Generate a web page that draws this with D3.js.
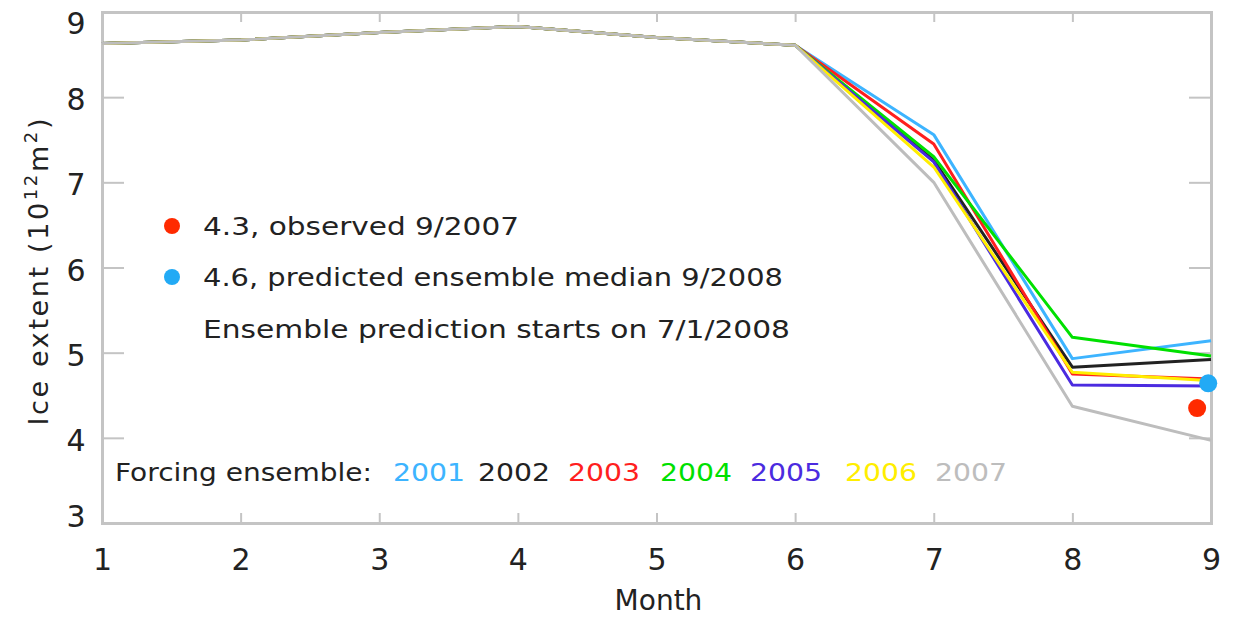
<!DOCTYPE html>
<html>
<head>
<meta charset="utf-8">
<script src="https://cdn.jsdelivr.net/npm/d3@7"></script>
<style>
  body { margin: 0; background: #fff; }
  text { font-family: "DejaVu Sans", sans-serif; fill: #222; }
</style>
</head>
<body>
<div class="chart"></div>
<script>
var wi = 1233;
var he = 617;

var months = [1, 2, 3, 4, 5, 6, 7, 8, 9];
var years = ["2001", "2002", "2003", "2004", "2005", "2006", "2007"];
var colors = ["#3db4ff", "#222222", "#ff1f1f", "#00e000", "#4b2be0", "#ffee00", "#bdbdbd"];

var ice2001 = [8.63, 8.67, 8.76, 8.83, 8.70, 8.61, 7.56, 4.93, 5.14];
var ice2002 = [8.63, 8.67, 8.76, 8.83, 8.70, 8.61, 7.26, 4.83, 4.92];
var ice2003 = [8.63, 8.67, 8.76, 8.83, 8.70, 8.61, 7.45, 4.75, 4.69];
var ice2004 = [8.63, 8.67, 8.76, 8.83, 8.70, 8.61, 7.30, 5.18, 4.96];
var ice2005 = [8.63, 8.67, 8.76, 8.83, 8.70, 8.61, 7.24, 4.62, 4.61];
var ice2006 = [8.63, 8.67, 8.76, 8.83, 8.70, 8.61, 7.18, 4.77, 4.67];
var ice2007 = [8.63, 8.67, 8.76, 8.83, 8.70, 8.61, 7.00, 4.37, 3.97];
var series = [ice2001, ice2002, ice2003, ice2004, ice2005, ice2006, ice2007];

// observed 9/2007 and predicted median 9/2008
var dotMonths = [8.9, 8.98];
var dotValues = [4.35, 4.64];
var dotColors = ["#ff2a00", "#22aaf5"];
var dotLabels = ["4.3, observed 9/2007", "4.6, predicted ensemble median 9/2008"];

var yTicks = [3, 4, 5, 6, 7, 8, 9];

var padLeft = 102, padRight = 1211, padTop = 12, padBottom = 523;
var axisColor = "#c4c4c4";

var xScale = d3.scaleLinear().domain([1, 9]).range([padLeft, padRight]);
var yScale = d3.scaleLinear().domain([3, 9]).range([padBottom, padTop]);

var svg = d3.select(".chart").append("svg")
    .attr("width", wi)
    .attr("height", he);

// frame with axes
var xBottom = d3.axisBottom(xScale).tickValues(months).tickSize(-10).tickPadding(26).tickFormat(d3.format("d"));
var xTop = d3.axisTop(xScale).tickValues(months).tickSize(-10).tickFormat("");
var yLeft = d3.axisLeft(yScale).tickValues(yTicks).tickSize(-22).tickPadding(40).tickFormat(d3.format("d"));
var yRight = d3.axisRight(yScale).tickValues(yTicks).tickSize(-22).tickFormat("");

var gx = svg.append("g").attr("transform", "translate(0," + padBottom + ")").call(xBottom);
svg.append("g").attr("transform", "translate(0," + padTop + ")").call(xTop);
var gy = svg.append("g").attr("transform", "translate(" + padLeft + ",0)").call(yLeft);
svg.append("g").attr("transform", "translate(" + padRight + ",0)").call(yRight);

svg.selectAll(".domain").attr("stroke", axisColor).attr("stroke-width", 3);
svg.selectAll(".tick line").attr("stroke", axisColor).attr("stroke-width", 2);
svg.selectAll(".tick text")
    .style("font-family", "DejaVu Sans, sans-serif")
    .style("font-size", "30px")
    .attr("fill", "#222");

gy.selectAll(".tick text")
    .attr("text-anchor", "middle")
    .attr("x", -26)
    .attr("dy", function(d) { return d == 9 ? "0.72em" : d == 3 ? "0.1em" : "0.42em"; });

// lines
var line = d3.line()
    .x(function(d, i) { return xScale(months[i]); })
    .y(function(d) { return yScale(d); });

svg.append("g").selectAll("path")
    .data(series)
    .enter()
    .append("path")
    .attr("d", line)
    .attr("fill", "none")
    .attr("stroke", function(d, i) { return colors[i]; })
    .attr("stroke-width", 3)
    .attr("stroke-linejoin", "round");

// dots at month 9
svg.append("g").selectAll("circle")
    .data(dotValues)
    .enter()
    .append("circle")
    .attr("cx", function(d, i) { return xScale(dotMonths[i]); })
    .attr("cy", function(d) { return yScale(d); })
    .attr("r", 9)
    .attr("fill", function(d, i) { return dotColors[i]; });

// axis titles
svg.append("text")
    .attr("x", (padLeft + padRight) / 2 + 2)
    .attr("y", 610)
    .attr("text-anchor", "middle")
    .style("font-size", "28px")
    .text("Month");

var ylab = svg.append("text")
    .attr("transform", "translate(48,272) rotate(-90)")
    .attr("text-anchor", "middle")
    .attr("textLength", 307)
    .style("font-size", "27px");
ylab.append("tspan").text("Ice extent (10");
ylab.append("tspan").attr("dy", -11).style("font-size", "18px").text("12");
ylab.append("tspan").attr("dy", 11).text("m");
ylab.append("tspan").attr("dy", -11).style("font-size", "18px").text("2");
ylab.append("tspan").attr("dy", 11).text(")");

// dot legend
var legend = svg.append("g");
legend.selectAll("circle")
    .data(dotColors)
    .enter()
    .append("circle")
    .attr("cx", 172)
    .attr("cy", function(d, i) { return 226 + i * 51; })
    .attr("r", 8)
    .attr("fill", function(d) { return d; });

var legendWidths = [316, 580];
legend.selectAll("text")
    .data(dotLabels)
    .enter()
    .append("text")
    .attr("x", 203)
    .attr("y", function(d, i) { return 226 + i * 51; })
    .attr("dy", "0.36em")
    .attr("textLength", function(d, i) { return legendWidths[i]; })
    .attr("lengthAdjust", "spacingAndGlyphs")
    .style("font-size", "25px")
    .text(function(d) { return d; });

legend.append("text")
    .attr("x", 203)
    .attr("y", 329)
    .attr("dy", "0.36em")
    .attr("textLength", 587)
    .attr("lengthAdjust", "spacingAndGlyphs")
    .style("font-size", "25px")
    .text("Ensemble prediction starts on 7/1/2008");

// forcing ensemble legend
var yearX = [393, 478, 568, 660, 750, 845, 935];
svg.append("text")
    .attr("x", 115)
    .attr("y", 472)
    .attr("dy", "0.36em")
    .attr("textLength", 257)
    .attr("lengthAdjust", "spacingAndGlyphs")
    .style("font-size", "25px")
    .text("Forcing ensemble:");

svg.append("g").selectAll("text")
    .data(years)
    .enter()
    .append("text")
    .attr("x", function(d, i) { return yearX[i]; })
    .attr("y", 472)
    .attr("dy", "0.36em")
    .attr("textLength", 72)
    .attr("lengthAdjust", "spacingAndGlyphs")
    .style("font-size", "25px")
    .style("fill", function(d, i) { return colors[i]; })
    .text(function(d) { return d; });
</script>
</body>
</html>
